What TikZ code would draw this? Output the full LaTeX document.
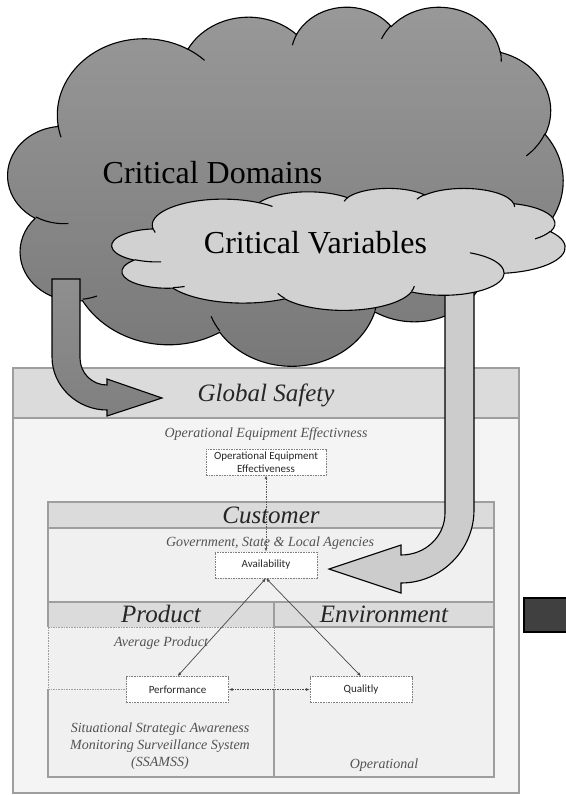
\documentclass[tikz,border=0pt]{standalone}
\usepackage{fontspec}
\setmainfont{Liberation Serif}
\newfontfamily\boxfont{Carlito}
\usetikzlibrary{arrows.meta,positioning}

\definecolor{cloudtop}{gray}{0.60}
\definecolor{cloudbot}{gray}{0.47}
\definecolor{cloudlt}{gray}{0.82}
\definecolor{arrowtop}{gray}{0.56}
\definecolor{arrowbot}{gray}{0.50}
\definecolor{arrowlt}{gray}{0.80}
\definecolor{hdrgray}{gray}{0.86}
\definecolor{bodygray}{gray}{0.955}
\definecolor{custgray}{gray}{0.94}
\definecolor{framegray}{gray}{0.62}
\definecolor{txtgray}{gray}{0.32}
\definecolor{darkbox}{gray}{0.25}

% visual angle of an office arc -> parametric angle
\makeatletter
\pgfmathdeclarefunction{cloudang}{3}{%
  \begingroup
    \pgfmathparse{#3+mod(atan2(#1*sin(#3),#2*cos(#3))-(#3)+540,360)-180}%
    \pgfmath@smuggleone\pgfmathresult
  \endgroup}
\makeatother

\newcommand\cloudarc[4]{arc[x radius=#1*\cldw pt, y radius=#2*\cldh pt,
  start angle={-cloudang(#1,#2,#3)}, end angle={-cloudang(#1,#2,#3+#4)}]}

% cloud: left, top, width, height, style
\newcommand\officecloud[5]{%
  \pgfmathsetmacro\cldw{#3/4320}%
  \pgfmathsetmacro\cldh{#4/4320}%
  \begin{scope}[shift={(#1,#2)}, x=\cldw pt, y=-\cldh pt]
    \path[#5] (390,1437)
      \cloudarc{675.3}{919.0}{-190.48748}{123.78053}
      \cloudarc{533.3}{726.7}{-144.10238}{89.94523}
      \cloudarc{436.5}{594.5}{-145.80792}{99.72302}
      \cloudarc{485.7}{659.5}{-130.98607}{117.24173}
      \cloudarc{533.3}{727.3}{-78.70888}{109.02692}
      \cloudarc{677.5}{922.0}{-46.26725}{130.26900}
      \cloudarc{578.5}{786.7}{0.62502}{114.03333}
      \cloudarc{675.2}{921.5}{22.45160}{115.17255}
      \cloudarc{772.0}{1054.3}{66.24263}{75.71102}
      \cloudarc{436.0}{591.8}{-274.94208}{146.73557}
      \cloudarc{434.5}{594.5}{-246.82850}{152.51885}
      -- cycle;
    \draw[cloudline] (469.3,2617.7) \cloudarc{434.5}{594.5}{86.742}{26.4295}
      (692.8,3489.9) \cloudarc{436.0}{591.8}{73.61047}{11.44747}
      (1647.8,3909.0) \cloudarc{675.2}{921.5}{137.62415}{14.0811}
      (2882.7,3475.1) \cloudarc{675.2}{921.5}{6.45327}{15.99835}
      (3412.9,2295.4) \cloudarc{578.5}{786.7}{-70.29235}{70.91737}
      (4179.8,1535.4) \cloudarc{533.3}{727.3}{30.31803}{27.7515}
      (3832.4,542.6) \cloudarc{485.7}{659.5}{-13.74433}{14.8589}
      (2907.8,395.2) \cloudarc{485.7}{659.5}{-149.18145}{18.19537}
      (2214.1,472.0) \cloudarc{436.5}{594.5}{-163.49427}{17.68635}
      (1400.0,519.2) \cloudarc{675.3}{919.0}{-66.70695}{12.31935}
      (412.7,1578.9) \cloudarc{675.3}{919.0}{157.65435}{11.85817};
  \end{scope}}

\begin{document}
\begin{tikzpicture}[x=1pt, y=-1pt,
  >={Latex[length=4pt,width=3pt]},
  every node/.style={inner sep=0pt},
  cloudline/.style={draw=black, line width=1.1pt},
  cloudtext/.style={font=\fontsize{32}{38}\selectfont, anchor=base},
  hdrtext/.style={font=\fontsize{25}{30}\selectfont\itshape, text=black!85, anchor=base},
  subtext/.style={font=\fontsize{14}{16.7}\selectfont\itshape, text=txtgray, align=center},
  dbox/.style={draw=framegray!80!black, dash pattern=on 1.6pt off 1pt, fill=white,
    font=\boxfont\fontsize{11}{13}\selectfont, text=black!85, align=center,
    minimum width=102pt, minimum height=26pt},
  gsframe/.style={draw=framegray, line width=1.2pt},
  dashframe/.style={draw=framegray, line width=0.8pt, dash pattern=on 1.6pt off 1pt},
  blockarrow/.style={draw=black, line width=1.1pt, line join=miter},
  link/.style={<->, draw=gray!55!black, line width=0.7pt}
]
\useasboundingbox (0,0) rectangle (565,795);

% Global Safety frame
\fill[bodygray] (13,368) rectangle (519,793);
\draw[gsframe, fill=hdrgray] (13,368) rectangle (519,418);
\draw[gsframe] (13,368) rectangle (519,793);
\node[hdrtext] (gs) at (266,401) {Global Safety};
\node[subtext, anchor=base] (oeetxt) at (266,437) {Operational Equipment Effectivness};
\node[dbox, minimum width=120pt] (oee) at (266,462) {Operational Equipment\\Effectiveness};

% Customer frame
\fill[custgray] (48,502) rectangle (494,777);
\draw[gsframe, fill=hdrgray] (48,502) rectangle (494,528);
\fill[hdrgray] (48,602) rectangle (494,627);
\draw[gsframe] (48,528) -- (48,627) (48,689) -- (48,777) -- (494,777) -- (494,528)
  (48,602) -- (494,602) (274,602) -- (274,627) -- (494,627) (274,689) -- (274,777);
\draw[dashframe] (48,627) -- (274,627) (48,627) -- (48,689) (274,627) -- (274,689);
\node[hdrtext] (cust) at (271,523) {Customer};
\node[subtext, anchor=base] (agency) at (270,546) {Government, State \& Local Agencies};
\node[dbox] (avail) at (266,565) {Availability};

% Product and Environment
\node[hdrtext] (prod) at (161,622) {Product};
\node[hdrtext] (env) at (384,622) {Environment};
\node[subtext, anchor=base] (avgprod) at (161,646) {Average Product};
\node[dbox] (perf) at (177.5,689.5) {Performance};
\node[dbox] (qual) at (361,689.5) {Qualitly};
\node[subtext] (ssamss) at (160,746) {Situational Strategic Awareness\\Monitoring Surveillance System\\(SSAMSS)};
\node[subtext, anchor=base] (oper) at (384,768) {Operational};
\coordinate (pleft) at (48,689.5);

\draw[link, draw=black!65, dash pattern=on 1.5pt off 1pt] (oee) -- (avail);
\draw[link] (avail.south) -- (perf.north);
\draw[link] (avail.south) -- (qual.north);
\draw[link, dash pattern=on 1.5pt off 1pt] (perf) -- (qual);
\draw[dashframe] (pleft) -- (perf);

% next slide edge
\draw[fill=darkbox, draw=black, line width=2pt] (524,598) rectangle (580,632);

% clouds and block arrows
\officecloud{8}{6}{555}{359}{cloudline, top color=cloudtop, bottom color=cloudbot}
\node[cloudtext] (domains) at (212.5,183) {Critical Domains};

\path[blockarrow, top color=arrowtop, bottom color=arrowbot]
  (52,279) -- (52,357) .. controls (52,386) and (77,410) .. (107,410) -- (107,416)
  -- (162,398) -- (107,379) -- (107,385) .. controls (92,385) and (80,373) .. (80,358)
  -- (80,279) -- cycle;
\path[blockarrow, fill=arrowlt]
  (445,280) -- (445,513) .. controls (445,536) and (426,555) .. (401,555) -- (401,545)
  -- (329,569) -- (401,593) -- (401,583) .. controls (441,583) and (474,550) .. (474,510)
  -- (474,280) -- cycle;

\officecloud{112}{188}{453}{122}{cloudline, fill=cloudlt}
\node[cloudtext] (variables) at (315.5,253) {Critical Variables};
\end{tikzpicture}
\end{document}
